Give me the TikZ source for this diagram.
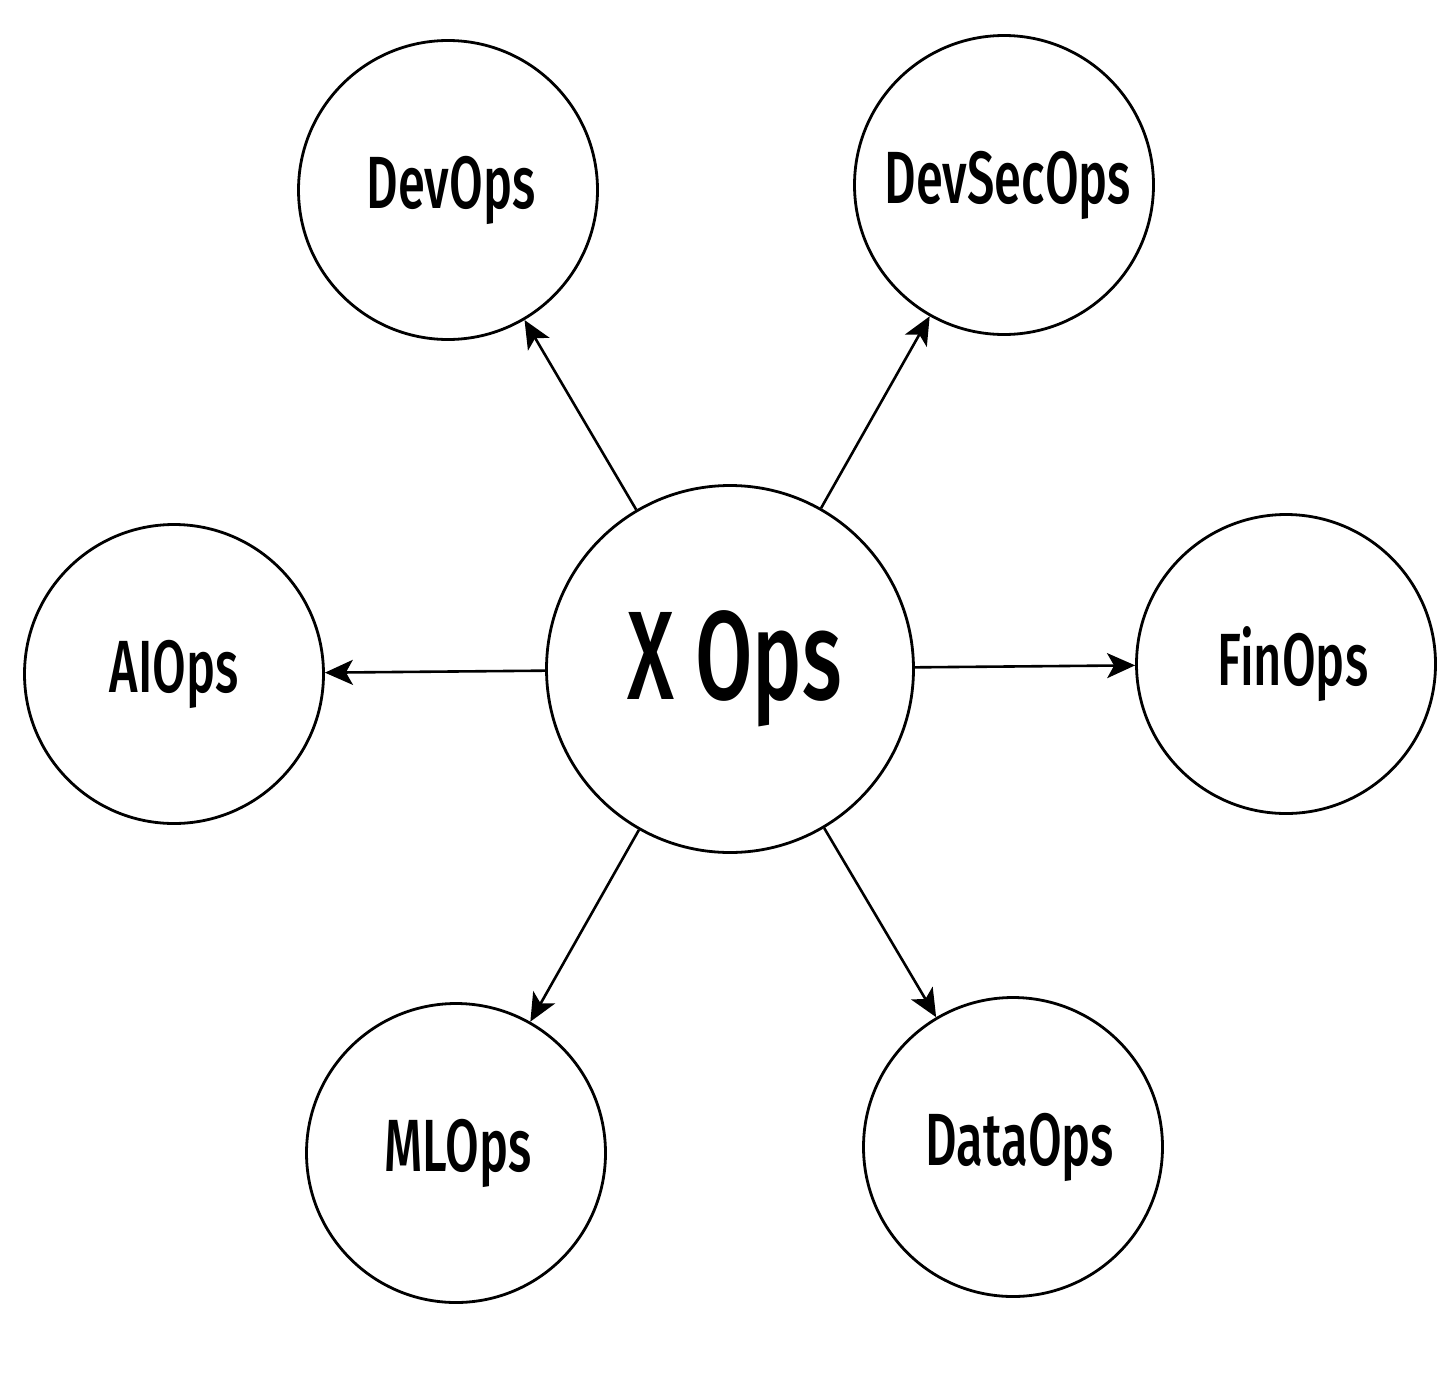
\documentclass[tikz,border=0pt]{standalone}
\usepackage{fontspec}
\setmainfont{Fira Sans}[FakeStretch=0.66,BoldFont={Fira Sans Medium}]
\usetikzlibrary{arrows.meta}
\begin{document}
\begin{tikzpicture}[x=1pt,y=-1pt,
  opsnode/.style={circle,draw=black,line width=2.8pt,inner sep=0pt,minimum size=299pt,
    font=\fontsize{74}{80}\selectfont\bfseries},
  hubnode/.style={circle,draw=black,line width=2.8pt,inner sep=0pt,minimum size=367pt,
    font=\fontsize{126}{130}\selectfont\bfseries},
  link/.style={line width=2.6pt,-{Stealth[length=28pt,width=25pt,inset=7pt]}}]
\useasboundingbox[fill=white] (0,0) rectangle (1456,1376);
\node[hubnode] (x) at (730,669) {\kern10pt X Ops};
\node[opsnode] (devops) at (448,190) {\kern6pt DevOps};
\node[opsnode] (devsecops) at (1004,185) {\kern8pt DevSecOps};
\node[opsnode] (aiops) at (174,674) {AIOps};
\node[opsnode] (finops) at (1286,664) {\kern14pt FinOps};
\node[opsnode] (mlops) at (456,1153) {\kern4pt MLOps};
\node[opsnode] (dataops) at (1013,1147) {\kern14pt DataOps};
\draw[link] (x) -- (devops);
\draw[link] (x) -- (devsecops);
\draw[link] (x) -- (aiops);
\draw[link] (x) -- (finops);
\draw[link] (x) -- (mlops);
\draw[link] (x) -- (dataops);
\end{tikzpicture}
\end{document}
